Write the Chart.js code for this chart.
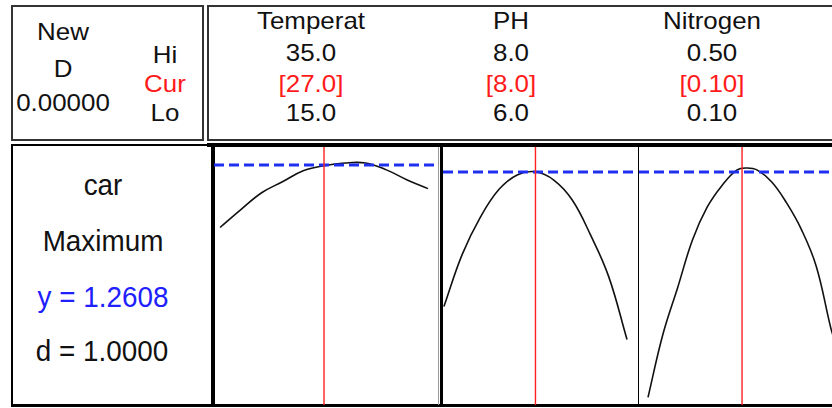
<!DOCTYPE html>
<html>
<head>
<meta charset="utf-8">
<script src="https://cdn.jsdelivr.net/npm/chart.js@4"></script>
<style>
  html, body { margin: 0; padding: 0; background: #fff; overflow: hidden; }
  body { width: 832px; height: 408px; position: relative; font-family: "Liberation Sans", Arial, sans-serif; }
  .box { position: absolute; box-sizing: border-box; }
  .t { position: absolute; transform: translate(-50%, -50%) scaleX(1.08); white-space: nowrap; font-size: 24px; color: #111; line-height: 1; }
  .big { font-size: 29px; transform: translate(-50%, -50%) scaleX(0.96); }
  .red { color: #ff1a1a; }
  .blue { color: #2020ff; }
  .panel { position: absolute; }
</style>
</head>
<body>
<!-- header boxes -->
<div class="box" style="left:11px;top:5px;width:193px;height:136px;border:2px solid #333;"></div>
<div class="box" style="left:207px;top:5px;width:640px;height:136px;border:2px solid #333;"></div>
<!-- lower boxes -->
<div class="box" style="left:11px;top:144px;width:204px;height:263px;border:2px solid #000;"></div>
<div class="box" style="left:207px;top:143px;width:640px;height:4px;background:#000;"></div>
<div class="box" style="left:11px;top:404px;width:830px;height:3px;background:#000;"></div>
<div class="box" style="left:211px;top:143px;width:3px;height:264px;background:#000;"></div>
<div class="box" style="left:438px;top:147px;width:1px;height:258px;background:#999;"></div>
<div class="box" style="left:440px;top:143px;width:3px;height:264px;background:#000;"></div>
<div class="box" style="left:638px;top:147px;width:1px;height:258px;background:#000;"></div>

<div class="t" style="left:63px;top:32px;">New</div>
<div class="t" style="left:63px;top:69px;">D</div>
<div class="t" style="left:63px;top:103px;">0.00000</div>
<div class="t" style="left:165px;top:55px;">Hi</div>
<div class="t red" style="left:165px;top:84px;">Cur</div>
<div class="t" style="left:165px;top:113px;">Lo</div>

<div id="hdr"></div>

<div class="t big" style="left:103px;top:185px;">car</div>
<div class="t big" style="left:103px;top:241px;">Maximum</div>
<div class="t big blue" style="left:103px;top:297px;">y = 1.2608</div>
<div class="t big" style="left:102px;top:351px;">d = 1.0000</div>

<div class="panel" style="left:214px;top:147px;width:224px;height:258px;"><canvas id="c0"></canvas></div>
<div class="panel" style="left:443px;top:147px;width:195px;height:258px;"><canvas id="c1"></canvas></div>
<div class="panel" style="left:639px;top:147px;width:197px;height:258px;"><canvas id="c2"></canvas></div>

<script>
// factor table
const factorNames = ['Temperat', 'PH', 'Nitrogen'];
const hiLabels = ['35.0', '8.0', '0.50'];
const curLabels = ['[27.0]', '[8.0]', '[0.10]'];
const loLabels = ['15.0', '6.0', '0.10'];

// response
const yOpt = 1.2608;

// Temperature curve
const tempX = [15, 17, 19, 21, 23, 25, 27, 29, 31, 33, 35];
const tempY = [1.124, 1.163, 1.200, 1.224, 1.248, 1.259, 1.265, 1.265, 1.250, 1.228, 1.209];

// PH curve
const phX = [6.0, 6.2, 6.4, 6.6, 6.8, 7.0, 7.2, 7.4, 7.6, 7.8, 8.0];
const phY = [1.049, 1.131, 1.190, 1.233, 1.256, 1.261, 1.248, 1.217, 1.162, 1.096, 0.997];

// Nitrogen curve
const nitX = [0.10, 0.13, 0.16, 0.19, 0.22, 0.25, 0.28, 0.30, 0.32, 0.35, 0.38, 0.41, 0.44, 0.47, 0.48];
const nitY = [0.906, 1.005, 1.079, 1.154, 1.206, 1.240, 1.264, 1.267, 1.264, 1.245, 1.212, 1.170, 1.112, 1.013, 0.990];

// red cursor positions as drawn
const cursorPos = [25.0, 7.0, 0.29];

// axis ranges of each panel
const xMin = [14.42, 5.99, 0.0818];
const xMax = [35.96, 8.12, 0.4798];
const yMin = [0.736, 0.894, 0.894];
const yMax = [1.30, 1.30, 1.30];

// header text
const hdrX = [311, 511, 712];
const hdr = document.getElementById('hdr');
factorNames.forEach((name, i) => {
    const rows = [[name, 21, ''], [hiLabels[i], 53, ''], [curLabels[i], 84, 'red'], [loLabels[i], 113, '']];
    rows.forEach(r => {
        const d = document.createElement('div');
        d.className = 't ' + r[2];
        d.style.left = hdrX[i] + 'px';
        d.style.top = r[1] + 'px';
        d.textContent = r[0];
        hdr.appendChild(d);
    });
});

const curves = [[tempX, tempY], [phX, phY], [nitX, nitY]];

curves.forEach((c, i) => {
    const pts = c[0].map((x, k) => ({ x: x, y: c[1][k] }));
    new Chart(document.getElementById('c' + i), {
        type: 'scatter',
        data: {
            datasets: [
                {
                    data: [{ x: cursorPos[i], y: yMin[i] }, { x: cursorPos[i], y: yMax[i] }],
                    showLine: true,
                    borderColor: '#ff2020',
                    borderWidth: 1.4,
                    pointRadius: 0
                },
                {
                    data: [{ x: xMin[i], y: yOpt }, { x: xMax[i], y: yOpt }],
                    showLine: true,
                    borderColor: '#1f2ff0',
                    borderWidth: 3,
                    borderDash: [10, 5],
                    pointRadius: 0
                },
                {
                    data: pts,
                    showLine: true,
                    borderColor: '#111',
                    borderWidth: 1.6,
                    tension: 0.4,
                    pointRadius: 0
                }
            ]
        },
        options: {
            responsive: true,
            maintainAspectRatio: false,
            animation: false,
            layout: { padding: 0 },
            plugins: { legend: { display: false }, tooltip: { enabled: false } },
            scales: {
                x: { type: 'linear', display: false, min: xMin[i], max: xMax[i] },
                y: { display: false, min: yMin[i], max: yMax[i] }
            }
        }
    });
});
</script>
</body>
</html>
